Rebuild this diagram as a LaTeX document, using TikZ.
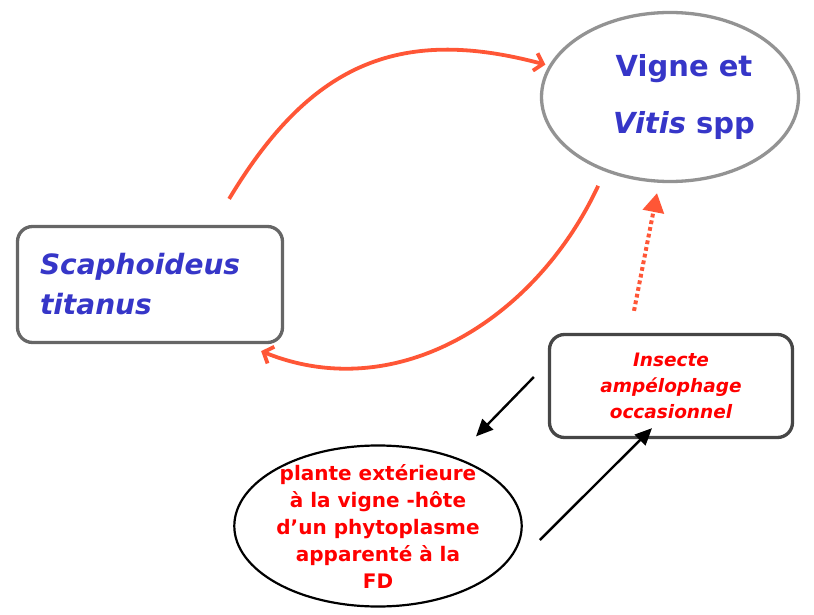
\documentclass[tikz,border=0pt]{standalone}
\usepackage{fontspec}
\setmainfont{DejaVu Sans}
\usetikzlibrary{shapes.geometric, arrows.meta}
\definecolor{hostblue}{HTML}{3636C8}
\definecolor{hostred}{HTML}{FF0000}
\definecolor{cycleorange}{HTML}{FF5636}

\begin{document}
\begin{tikzpicture}[x=1pt, y=-1pt,
                    grapebox/.style={ellipse, draw=gray!85, line width=3.3pt, inner sep=0pt,
                                     minimum width=257pt, minimum height=169pt, align=center},
                    insectbox/.style={rectangle, rounded corners=15pt, line width=3.3pt, fill=white},
                    cycle/.style={draw=cycleorange, line width=3.8pt,
                                  -{Straight Barb[length=8pt,width=18pt]}},
                    sideway/.style={draw=black, line width=2.4pt, -{Triangle[length=17pt,width=15pt]}}]
\useasboundingbox (0,0) rectangle (814,615);

\node[grapebox, text=hostblue, font=\bfseries\fontsize{29}{57}\selectfont] (vigne) at (670,97)
  {\hspace*{28pt}Vigne et\\\hspace*{28pt}\textit{Vitis} spp};
\node[insectbox, draw=gray!80!black, text=hostblue, minimum width=265pt, minimum height=116pt,
      text width=220pt, align=left, inner xsep=22pt,
      font=\bfseries\itshape\fontsize{28}{40}\selectfont] (scapho) at (150,284.5)
  {Scaphoideus\\titanus};
\node[insectbox, draw=gray!55!black, text=hostred, minimum width=243pt, minimum height=103pt,
      align=center, font=\bfseries\itshape\fontsize{18.5}{26}\selectfont] (insecte) at (671,386)
  {Insecte\\amp\'elophage\\occasionnel};
\node[ellipse, draw=black, line width=2.2pt, text=hostred, minimum width=286pt,
      minimum height=161pt, inner xsep=0pt, inner ysep=-12pt, align=center,
      font=\bfseries\fontsize{20}{27}\selectfont] (plante) at (378,526)
  {plante ext\'erieure\\\`a la vigne -h\^ote\\d'un phytoplasme\\apparent\'e \`a la\\FD};

% cycle de la FD
\draw[cycle] ([xshift=-55pt,yshift=26pt]scapho.north east) to[out=59,in=165,looseness=1.15]
  ([xshift=-4pt]vigne.165);
\draw[cycle] ([yshift=-17pt]vigne.225) to[out=-115,in=-22] ([xshift=-23pt,yshift=-7pt]scapho.south east);
\draw[cycle, line width=4pt, dash pattern=on 3.8pt off 3pt, -{Triangle[length=19pt,width=21pt]}]
  ([xshift=-37pt,yshift=22pt]insecte.north) -- ([xshift=-13pt,yshift=-10pt]vigne.south);

% autres hotes
\draw[sideway] ([xshift=-14pt,yshift=9pt]insecte.west) -- ([xshift=98pt,yshift=8pt]plante.north);
\draw[sideway] ([xshift=17pt,yshift=-14pt]plante.east) -- ([xshift=-19pt,yshift=11pt]insecte.south);
\end{tikzpicture}
\end{document}
